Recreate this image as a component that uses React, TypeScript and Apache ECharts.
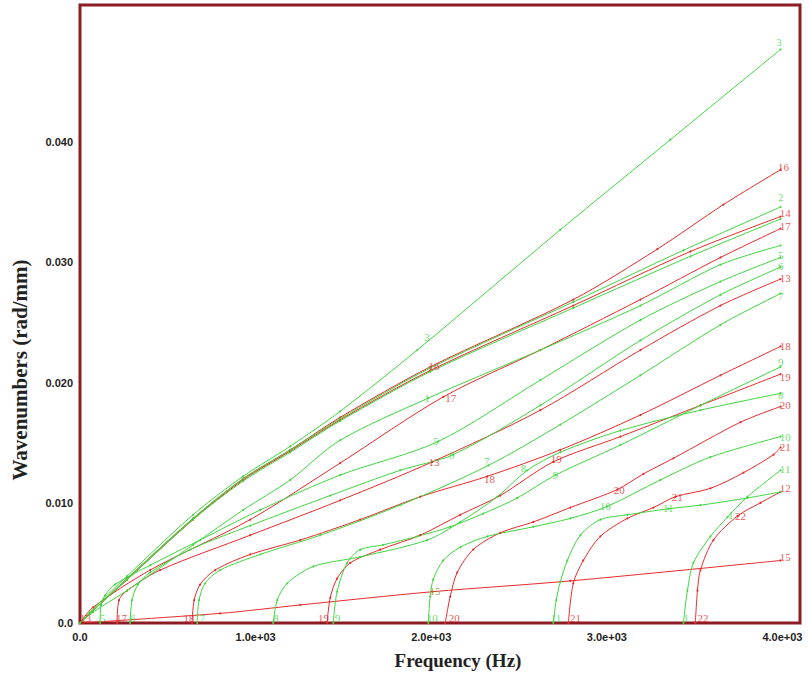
import React, { useEffect, useRef } from "react";
import * as echarts from "echarts";

const GREEN = "#3fd63f";
const RED = "#e62a2a";
const FRAME = "#8c1c24";

// Frequency (Hz) / wavenumber (rad/mm) pairs
const G1 = [[0,0],[74,0.0009],[268,0.0027],[644,0.0065],[929,0.0094],[1197,0.0119],[1481,0.0152],[1983,0.0187],[2621,0.0227],[3191,0.0264],[3647,0.0298],[3989,0.0314]];
const G2 = [[0,0],[57,0.0008],[268,0.0037],[644,0.0087],[929,0.012],[1197,0.0144],[1481,0.017],[1994,0.0212],[2809,0.0267],[3436,0.031],[3989,0.0346]];
const G3 = [[0,0],[57,0.0009],[268,0.0039],[644,0.009],[929,0.0122],[1197,0.0147],[1481,0.0176],[1920,0.0227],[2735,0.0327],[3362,0.0402],[3989,0.0477]];
const G4 = [[0,0],[57,0.0008],[268,0.0036],[644,0.0086],[929,0.0118],[1197,0.0142],[1481,0.0168],[1994,0.0209],[2809,0.0262],[3476,0.0305],[3989,0.0336]];
const G5 = [[114,0],[120,0.0015],[142,0.0023],[199,0.0032],[399,0.0048],[684,0.0069],[1026,0.0094],[1481,0.0123],[2040,0.0151],[2621,0.0202],[3191,0.0252],[3647,0.0284],[3989,0.0304]];
const G6 = [[285,0],[296,0.0019],[330,0.0032],[399,0.0042],[627,0.0061],[969,0.0081],[1425,0.0106],[1823,0.0127],[2125,0.014],[2621,0.0181],[3191,0.0235],[3647,0.0273],[3989,0.0296]];
const G7 = [[667,0],[678,0.0019],[712,0.0033],[798,0.0044],[1026,0.0057],[1368,0.0073],[1823,0.0098],[2325,0.0131],[2735,0.0165],[3191,0.0206],[3647,0.0248],[3989,0.0274]];
const G8 = [[1100,0],[1123,0.0019],[1180,0.0033],[1328,0.0047],[1595,0.0055],[1977,0.0069],[2165,0.0084],[2376,0.0105],[2547,0.0127],[2735,0.0142],[3077,0.016],[3533,0.0177],[3989,0.0191]];
const G9 = [[1442,0],[1464,0.0026],[1521,0.005],[1595,0.0061],[1726,0.0065],[1920,0.0072],[2108,0.008],[2296,0.0091],[2490,0.0104],[2707,0.0123],[3077,0.0148],[3533,0.0181],[3989,0.0213]];
const G10 = [[1983,0],[1994,0.0022],[2011,0.0036],[2068,0.0052],[2165,0.0063],[2319,0.0072],[2581,0.008],[2792,0.0087],[3003,0.0097],[3305,0.0119],[3590,0.0138],[3989,0.0155]];
const G11 = [[2695,0],[2712,0.0019],[2735,0.0034],[2775,0.0052],[2849,0.0073],[2963,0.0086],[3117,0.009],[3350,0.0095],[3533,0.0098],[3801,0.0104],[3989,0.0109]];
const G12 = [[3436,0],[3459,0.0027],[3493,0.005],[3590,0.0072],[3687,0.0088],[3801,0.0105],[3989,0.0127]];

const R13 = [[211,0],[222,0.0019],[268,0.0027],[456,0.0044],[969,0.0073],[1481,0.0102],[2006,0.0134],[2621,0.0177],[3191,0.0227],[3647,0.0264],[3989,0.0286]];
const R14 = [[0,0],[57,0.0008],[268,0.0036],[644,0.0086],[929,0.0119],[1197,0.0143],[1481,0.0169],[1994,0.021],[2809,0.0264],[3476,0.0309],[3989,0.0338]];
const R15 = [[0,0],[798,0.0008],[1254,0.0015],[2006,0.0026],[2792,0.0035],[3989,0.0052]];
const R16 = [[0,0],[57,0.0008],[268,0.0037],[644,0.0087],[929,0.012],[1197,0.0144],[1481,0.0171],[1994,0.0213],[2809,0.0269],[3288,0.0311],[3664,0.0348],[3989,0.0377]];
const R17 = [[0,0],[74,0.0013],[399,0.0044],[969,0.0086],[1481,0.0133],[2068,0.0188],[2621,0.0227],[3191,0.0269],[3647,0.0304],[3989,0.0328]];
const R18 = [[638,0],[650,0.0019],[684,0.0032],[769,0.0044],[969,0.0057],[1254,0.0069],[1595,0.0086],[1937,0.0105],[2319,0.0122],[2735,0.0144],[3191,0.0173],[3647,0.0206],[3989,0.023]];
const R19 = [[1407,0],[1425,0.0021],[1464,0.0037],[1539,0.005],[1709,0.0061],[1937,0.0073],[2165,0.009],[2393,0.0106],[2695,0.0134],[3077,0.0155],[3533,0.0181],[3989,0.0207]];
const R20 = [[2080,0],[2108,0.0022],[2148,0.0042],[2239,0.0061],[2393,0.0075],[2581,0.0084],[2792,0.0096],[3060,0.0111],[3208,0.0124],[3379,0.0137],[3761,0.0167],[3989,0.018]];
const R21 = [[2781,0],[2809,0.0033],[2866,0.0052],[2963,0.0072],[3117,0.0087],[3265,0.0096],[3390,0.0105],[3590,0.0112],[3778,0.0125],[3949,0.014],[3989,0.0146]];
const R22 = [[3504,0],[3516,0.0027],[3533,0.0044],[3607,0.0069],[3744,0.0089],[3875,0.01],[3989,0.0109]];

const GREEN_CURVES = [G1, G2, G3, G4, G5, G6, G7, G8, G9, G10, G11, G12];
const RED_CURVES = [R13, R14, R15, R16, R17, R18, R19, R20, R21, R22];

// Mode number labels: [frequency, wavenumber, text]
const GREEN_LABELS = [
  [3965, 0.0483, "3"], [3975, 0.0354, "2"], [3975, 0.0306, "5"], [3975, 0.0297, "6"], [3975, 0.0272, "7"],
  [3975, 0.0217, "9"], [3975, 0.019, "8"], [3985, 0.0155, "10"], [3985, 0.0128, "11"],
  [1960, 0.0238, "3"], [1960, 0.0187, "1"], [2010, 0.0151, "5"], [2100, 0.014, "6"], [2300, 0.0135, "7"],
  [2510, 0.0129, "8"], [2690, 0.0123, "9"], [2960, 0.0097, "10"], [3320, 0.0096, "11"], [3690, 0.009, "1"],
  [114, 0.0004, "5"], [285, 0.0004, "6"], [680, 0.0004, "7"], [1100, 0.0004, "8"], [1450, 0.0004, "9"],
  [1975, 0.0004, "10"], [2680, 0.0004, "11"], [3436, 0.0004, "1"],
];
const RED_LABELS = [
  [3975, 0.0379, "16"], [3985, 0.0341, "14"], [3985, 0.033, "17"], [3985, 0.0287, "13"], [3985, 0.023, "18"],
  [3985, 0.0205, "19"], [3985, 0.0181, "20"], [3985, 0.0146, "21"], [3985, 0.0112, "12"], [3985, 0.0055, "15"],
  [1985, 0.0214, "16"], [2080, 0.0187, "17"], [1985, 0.0134, "13"], [2300, 0.012, "18"], [2680, 0.0136, "19"],
  [3040, 0.0111, "20"], [3370, 0.0105, "21"], [3730, 0.0089, "22"],
  [205, 0.0004, "17"], [590, 0.0004, "18"], [1355, 0.0004, "19"], [2100, 0.0004, "20"], [2790, 0.0004, "21"], [3516, 0.0004, "22"],
  [0, 0.0004, "13"],
];
const OLIVE_LABELS = [[1990, 0.0027, "15"]];

const X_TICKS = ["0.0", "1.0e+03", "2.0e+03", "3.0e+03", "4.0e+03"];
const Y_TICKS = ["0.0", "0.010", "0.020", "0.030", "0.040"];

function curveSeries(data: number[][], color: string) {
  return {
    type: "line",
    data,
    smooth: 0.3,
    symbol: "circle",
    symbolSize: 2,
    showSymbol: true,
    itemStyle: { color },
    lineStyle: { color, width: 1 },
    silent: true,
    z: 2,
  };
}

function labelSeries(data: any[], color: string) {
  return {
    type: "scatter",
    data,
    symbolSize: 0,
    silent: true,
    z: 5,
    label: {
      show: true,
      position: [0, 0],
      align: "left",
      verticalAlign: "middle",
      formatter: (p: any) => p.data[2],
      color,
      fontFamily: "Liberation Serif",
      fontSize: 11,
      lineHeight: 11,
    },
  };
}

export default function App() {
  const ref = useRef<HTMLDivElement>(null);
  useEffect(() => {
    if (!ref.current) return;
    const chart = echarts.init(ref.current, null, { renderer: "svg" });
    const axisLabelStyle = {
      fontFamily: "Liberation Sans",
      fontWeight: "bold",
      fontSize: 11,
      color: "#222",
    };
    chart.setOption({
      animation: false,
      backgroundColor: "#ffffff",
      grid: {
        left: 80,
        right: 10,
        top: 5,
        bottom: 51,
        show: true,
        borderColor: FRAME,
        borderWidth: 3,
        backgroundColor: "transparent",
      },
      xAxis: {
        type: "value",
        min: 0,
        max: 4100,
        interval: 1000,
        name: "Frequency (Hz)",
        nameLocation: "middle",
        nameGap: 28,
        nameTextStyle: {
          fontFamily: "Liberation Serif",
          fontWeight: "bold",
          fontSize: 19,
          color: "#222",
          padding: [0, 0, 0, 36],
        },
        axisLine: { show: false },
        axisTick: { show: false },
        splitLine: { show: false },
        axisLabel: {
          ...axisLabelStyle,
          margin: 8,
          showMaxLabel: false,
          formatter: (v: number) => X_TICKS[Math.round(v / 1000)] ?? "",
        },
      },
      yAxis: {
        type: "value",
        min: 0,
        max: 0.0514,
        interval: 0.01,
        name: "Wavenumbers (rad/mm)",
        nameLocation: "middle",
        nameGap: 50,
        nameRotate: 90,
        nameTextStyle: {
          fontFamily: "Liberation Serif",
          fontWeight: "bold",
          fontSize: 21,
          color: "#222",
          padding: [0, 112, 0, 0],
        },
        axisLine: { show: false },
        axisTick: { show: false },
        splitLine: { show: false },
        axisLabel: {
          ...axisLabelStyle,
          margin: 7,
          showMaxLabel: false,
          formatter: (v: number) => Y_TICKS[Math.round(v / 0.01)] ?? "",
        },
      },
      series: [
        ...RED_CURVES.map((c) => curveSeries(c, RED)),
        ...GREEN_CURVES.map((c) => curveSeries(c, GREEN)),
        labelSeries(GREEN_LABELS, GREEN),
        labelSeries(RED_LABELS, RED),
        labelSeries(OLIVE_LABELS, "#8a9a10"),
      ],
    });
    return () => chart.dispose();
  }, []);
  return (
    <div
      ref={ref}
      style={{ position: "fixed", left: 0, top: 0, width: 810, height: 675 }}
    />
  );
}
